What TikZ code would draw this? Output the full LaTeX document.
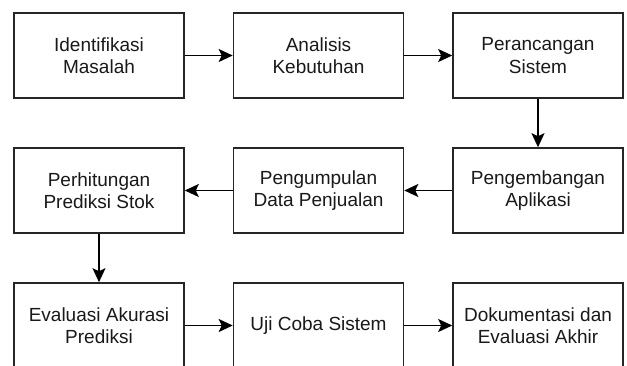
\documentclass[tikz,border=0pt]{standalone}
\usepackage{fontspec}
\setmainfont{Liberation Sans}
\usetikzlibrary{arrows.meta}
\begin{document}
\begin{tikzpicture}[x=1pt,y=1pt,
  stepbox/.style={draw=black!85,line width=1.6pt,fill=white,minimum width=170pt,minimum height=85pt,
    inner sep=0pt,align=center,text=black!90,font=\fontsize{19}{22.5}\selectfont},
  conn/.style={draw=black,line width=1.5pt,-{Stealth[length=14pt,width=13pt,inset=3pt]}}]
\useasboundingbox (0,0) rectangle (627,-365);
\clip (0,0) rectangle (627,-365);
\fill[white] (0,0) rectangle (627,-365);
\node[stepbox] (a) at (99,-55.5) {Identifikasi\\Masalah};
\node[stepbox] (b) at (318.5,-55.5) {Analisis\\Kebutuhan};
\node[stepbox] (c) at (538,-55.5) {Perancangan\\Sistem};
\node[stepbox] (d) at (538,-190.5) {Pengembangan\\Aplikasi};
\node[stepbox] (e) at (318.5,-190.5) {Pengumpulan\\Data Penjualan};
\node[stepbox] (f) at (99,-190.5) {Perhitungan\\Prediksi Stok};
\node[stepbox] (g) at (99,-325.5) {Evaluasi Akurasi\\Prediksi};
\node[stepbox] (h) at (318.5,-325.5) {Uji Coba Sistem};
\node[stepbox] (i) at (538,-325.5) {Dokumentasi dan\\Evaluasi Akhir};
\draw[conn] (a) -- (b);
\draw[conn] (b) -- (c);
\draw[conn] (c) -- (d);
\draw[conn] (d) -- (e);
\draw[conn] (e) -- (f);
\draw[conn] (f) -- (g);
\draw[conn] (g) -- (h);
\draw[conn] (h) -- (i);
\end{tikzpicture}
\end{document}
